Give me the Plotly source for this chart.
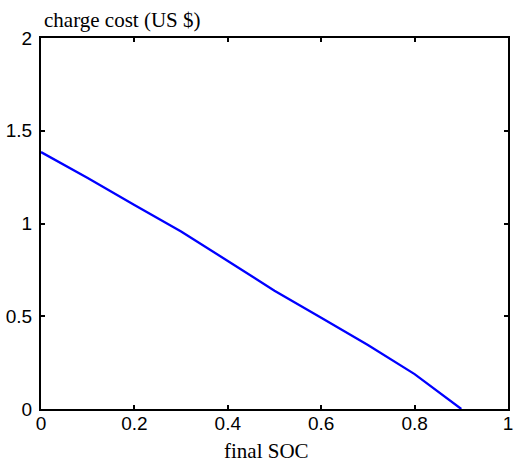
import plotly.graph_objects as go

final_soc = [0.0, 0.1, 0.2, 0.3, 0.4, 0.5, 0.6, 0.7, 0.8, 0.9]
charge_cost = [1.385, 1.245, 1.10, 0.957, 0.798, 0.638, 0.492, 0.345, 0.188, 0.0]

x_ticks = [0, 0.2, 0.4, 0.6, 0.8, 1]
x_ticklabels = ["0", "0.2", "0.4", "0.6", "0.8", "1"]
y_ticks = [0, 0.5, 1, 1.5, 2]
y_ticklabels = ["0", "0.5", "1", "1.5", "2"]

fig = go.Figure()
fig.add_trace(go.Scatter(x=final_soc, y=charge_cost, mode="lines",
                         line=dict(color="#0000ff", width=2.3), showlegend=False))

axis_common = dict(showline=True, linecolor="black", linewidth=2, mirror="ticks",
                   ticks="inside", ticklen=4, tickwidth=2, tickcolor="black",
                   showgrid=False, zeroline=False, ticklabeloverflow="allow",
                   tickfont=dict(family="Liberation Sans, Arial, sans-serif", size=19, color="black"))

fig.update_layout(
    width=514, height=463,
    margin=dict(l=41, r=1, t=38, b=54),
    paper_bgcolor="white", plot_bgcolor="white",
    xaxis=dict(range=[0, 1], tickvals=x_ticks, ticktext=x_ticklabels, ticklabelstandoff=-4, **axis_common),
    yaxis=dict(range=[0, 2], tickvals=y_ticks, ticktext=y_ticklabels, ticklabelstandoff=3, **axis_common),
    annotations=[
        dict(text="charge cost (US $)", xref="paper", yref="paper", x=0.0, y=1.0,
             xanchor="left", yanchor="bottom", xshift=1, yshift=4, showarrow=False,
             font=dict(family="Liberation Serif, Times New Roman, serif", size=21, color="black")),
        dict(text="final SOC", xref="paper", yref="paper", x=0.5, y=0.0,
             xanchor="center", yanchor="top", xshift=-8, yshift=-28, showarrow=False,
             font=dict(family="Liberation Serif, Times New Roman, serif", size=21, color="black")),
    ],
)

fig.write_html("out.html", config={"displayModeBar": False},
               post_script="document.body.style.margin='0';document.body.style.overflow='hidden';")
